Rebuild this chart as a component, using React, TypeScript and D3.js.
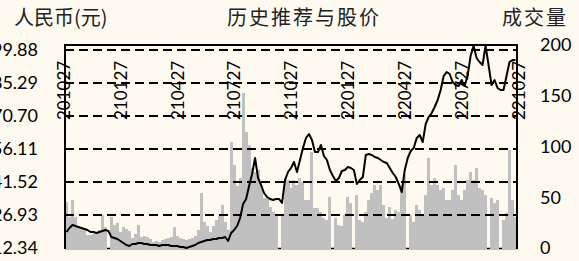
import React, { useEffect, useRef } from 'react';
import * as d3 from 'd3';

// left axis (price, yuan)
const priceTicks = [12.34, 26.93, 41.52, 56.11, 70.7, 85.29, 99.88];
// right axis (volume)
const volumeTicks = [0, 50, 100, 150, 200];
const dateLabels = ['201027', '210127', '210427', '210727', '211027', '220127', '220427', '220727', '221027'];

// closing price, sampled evenly from 2020-10-27 to 2022-10-27
const price = [
  19.41, 21.18, 22.51, 22.07, 21.62, 21.18, 20.74, 20.3, 19.41, 19.41,
  18.97, 19.41, 19.86, 20.3, 19.86, 17.2, 16.76, 16.32, 15.43, 14.55,
  13.67, 13.22, 14.11, 14.11, 14.55, 14.55, 14.11, 14.11, 13.67, 13.67,
  13.67, 13.22, 13.67, 13.67, 13.67, 13.22, 13.22, 13.22, 12.78, 12.78,
  12.34, 12.78, 13.22, 13.67, 14.55, 14.99, 15.43, 15.88, 15.88, 16.32,
  16.32, 16.76, 16.76, 17.2, 15.43, 18.97, 20.3, 22.07, 25.6, 31.79,
  34.0, 39.75, 45.06, 52.13, 43.29, 40.19, 36.66, 34.89, 34.0, 33.56,
  34.0, 34.0, 32.24, 42.4, 45.94, 47.71, 50.36, 45.94, 51.25, 56.55,
  60.97, 62.74, 60.09, 54.78, 54.78, 57.88, 53.02, 51.25, 46.83, 44.17,
  41.96, 43.29, 46.38, 46.83, 48.15, 47.71, 46.83, 40.64, 42.4, 43.73,
  53.46, 53.9, 53.46, 52.57, 52.13, 51.25, 50.36, 49.92, 47.71, 45.5,
  43.73, 40.64, 37.1, 46.83, 52.13, 55.23, 56.55, 60.97, 62.3, 59.2,
  67.16, 70.26, 72.03, 74.68, 77.77, 82.19, 88.38, 90.15, 89.27, 85.73,
  84.41, 83.96, 86.62, 83.96, 88.38, 97.23, 101.8, 96.34, 94.57, 93.25,
  101.8, 93.25, 84.41, 86.62, 83.08, 82.19, 82.19, 88.38, 94.57, 95.46,
  95.46,
];

// trading volume, same sampling
const volume = [
  45, 31, 47, 31, 21, 19, 18, 13, 13, 14,
  16, 18, 33, 21, 0, 31, 23, 25, 16, 21,
  19, 17, 10, 14, 23, 11, 12, 11, 9, 6,
  7, 6, 8, 9, 10, 11, 21, 12, 10, 9,
  8, 9, 10, 12, 18, 54, 26, 22, 16, 22,
  28, 32, 42, 26, 18, 104, 82, 61, 69, 153,
  114, 101, 79, 75, 77, 62, 49, 49, 40, 35,
  33, 0, 33, 69, 67, 59, 67, 62, 69, 65,
  47, 47, 95, 39, 39, 35, 30, 28, 50, 0,
  30, 23, 22, 33, 50, 44, 0, 52, 28, 26,
  35, 47, 54, 62, 57, 62, 42, 30, 40, 29,
  37, 35, 62, 72, 0, 33, 26, 42, 37, 33,
  52, 89, 62, 69, 62, 57, 59, 47, 47, 57,
  82, 52, 47, 57, 67, 75, 67, 79, 59, 57,
  52, 0, 49, 44, 47, 0, 28, 34, 97, 47,
  31,
];

export default function App() {
  const ref = useRef<SVGSVGElement>(null);

  useEffect(() => {
    const W = 579,
      H = 261;
    const margin = { top: 45, right: 62, bottom: 13, left: 65 };
    const width = W - margin.left - margin.right;
    const height = H - margin.top - margin.bottom;

    const root = d3.select(ref.current);
    root.selectAll('*').remove();

    root.append('rect').attr('width', W).attr('height', H).attr('fill', '#fffaf0');

    const svg = root.append('g').attr('transform', 'translate(' + margin.left + ',' + margin.top + ')');

    const x = d3
      .scaleBand<number>()
      .domain(d3.range(volume.length))
      .range([0, width])
      .padding(0);
    const yPrice = d3.scaleLinear().domain([12.34, 102.09]).range([height, 0]);
    const yVol = d3.scaleLinear().domain([0, 200]).range([height, 0]);
    const xLabel = d3.scalePoint().domain(dateLabels).range([-1.5, width + 1]);

    // bottom line, mostly hidden behind the bars
    svg
      .append('line')
      .attr('x1', 0)
      .attr('x2', width)
      .attr('y1', height + 0.5)
      .attr('y2', height + 0.5)
      .attr('stroke', '#000')
      .attr('stroke-width', 1.5);

    svg
      .selectAll('.bar')
      .data(volume)
      .enter()
      .append('rect')
      .attr('class', 'bar')
      .attr('x', (d, i) => x(i))
      .attr('width', x.bandwidth())
      .attr('y', (d) => yVol(d))
      .attr('height', (d) => (d > 0 ? height + 1.5 - yVol(d) : 0))
      .attr('fill', '#c0c0c0')
      .attr('shape-rendering', 'crispEdges');

    // date labels inside the plot
    svg
      .selectAll('.date')
      .data(dateLabels)
      .enter()
      .append('text')
      .attr('class', 'date')
      .attr('transform', (d) => 'translate(' + xLabel(d) + ',75) rotate(-90)')
      .attr('text-anchor', 'start')
      .attr('dominant-baseline', 'central')
      .style('font-family', 'Lato, Carlito, Calibri, sans-serif')
      .style('font-size', '17px')
      .attr('fill', '#000')
      .text((d) => d);

    // dashed grid
    svg
      .selectAll('.grid')
      .data(priceTicks.slice(1))
      .enter()
      .append('line')
      .attr('class', 'grid')
      .attr('x1', 0)
      .attr('x2', width)
      .attr('y1', (d) => yPrice(d))
      .attr('y2', (d) => yPrice(d))
      .attr('stroke', '#000')
      .attr('stroke-width', 2)
      .attr('stroke-dasharray', '9,5');

    const line = d3
      .line<number>()
      .x((d, i) => (x(i) as number) + x.bandwidth() / 2)
      .y((d) => yPrice(d));

    svg
      .append('path')
      .datum(price)
      .attr('d', line)
      .attr('fill', 'none')
      .attr('stroke', '#000')
      .attr('stroke-width', 2)
      .attr('stroke-linejoin', 'round');

    // frame
    svg
      .append('path')
      .attr('d', 'M0,' + (height + 1) + 'V0H' + width + 'V' + (height + 1))
      .attr('fill', 'none')
      .attr('stroke', '#000')
      .attr('stroke-width', 2);

    const fmt = d3.format('.2f');
    svg
      .selectAll('.ytick')
      .data(priceTicks)
      .enter()
      .append('text')
      .attr('class', 'ytick')
      .attr('x', -27)
      .attr('y', (d) => yPrice(d))
      .attr('dy', '.35em')
      .attr('text-anchor', 'end')
      .style('font-family', 'Lato, Carlito, Calibri, sans-serif')
      .style('font-size', '18px')
      .attr('fill', '#000')
      .text((d) => fmt(d));

    svg
      .selectAll('.vtick')
      .data(volumeTicks)
      .enter()
      .append('text')
      .attr('class', 'vtick')
      .attr('x', width + 23)
      .attr('y', (d) => yVol(d))
      .attr('dy', '.35em')
      .attr('text-anchor', 'start')
      .style('font-family', 'Lato, Carlito, Calibri, sans-serif')
      .style('font-size', '18px')
      .attr('fill', '#000')
      .text((d) => d);

    // titles
    const cjk = '"Noto Sans CJK SC", sans-serif';
    root
      .append('text')
      .attr('x', 14)
      .attr('y', 25)
      .style('font-family', cjk)
      .style('font-size', '20px')
      .attr('fill', '#222')
      .text('人民币(元)');
    root
      .append('text')
      .attr('x', 227)
      .attr('y', 25)
      .style('font-family', cjk)
      .style('font-size', '20px')
      .style('letter-spacing', '2px')
      .attr('fill', '#222')
      .text('历史推荐与股价');
    root
      .append('text')
      .attr('x', 502)
      .attr('y', 25)
      .style('font-family', cjk)
      .style('font-size', '20px')
      .style('letter-spacing', '2px')
      .attr('fill', '#222')
      .text('成交量');
  }, []);

  return (
    <svg
      ref={ref}
      width={579}
      height={261}
      style={{ position: 'absolute', left: 0, top: 0, display: 'block' }}
    />
  );
}
